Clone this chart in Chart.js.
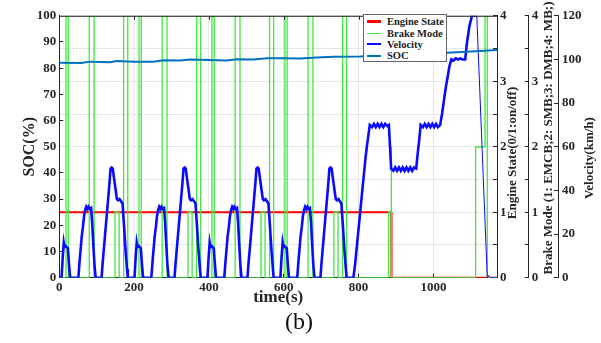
<!DOCTYPE html>
<html>
<head>
<meta charset="utf-8">
<script src="https://cdn.jsdelivr.net/npm/chart.js@4.4.0/dist/chart.umd.min.js"></script>
<style>
  html, body { margin: 0; padding: 0; background: #fff; }
  #wrap { position: relative; width: 601px; height: 343px; }
  #legend {
    position: absolute; left: 363px; top: 14px; width: 84px; height: 48px;
    box-sizing: border-box; border: 1px solid #666; background: #fff;
    font: bold 10.5px "Liberation Serif", "Times New Roman", serif; color: #222;
    padding-top: 1px;
  }
  #legend .row { display: flex; align-items: center; height: 11.4px; white-space: nowrap; }
  #legend .sw { flex: 0 0 14px; width: 14px; margin-left: 3px; margin-right: 6px; }
  #caption {
    position: absolute; left: 285px; top: 308px;
    font: 24px "Liberation Serif", "Times New Roman", serif; color: #111;
  }
</style>
</head>
<body>
<div id="wrap">
  <canvas id="chart"></canvas>
  <div id="legend"></div>
  <div id="caption">(b)</div>
</div>
<script>
// Datos
const timeTicks = [0, 200, 400, 600, 800, 1000];

const socTime = [0, 58, 82, 110, 136, 153, 200, 251, 278, 323, 350, 400, 447, 474, 519, 555, 600, 644, 688, 733, 804, 900, 1036, 1100, 1170];
const socValue = [82.1, 82.0, 82.5, 82.4, 82.3, 82.7, 82.5, 82.5, 83.0, 82.9, 83.3, 83.1, 82.9, 83.4, 83.3, 83.8, 83.8, 83.7, 84.1, 84.4, 84.5, 85.0, 85.9, 86.4, 86.9];

const engineTime = [0, 887, 888, 1170];
const engineState = [1, 1, 0, 0];

const brakeTime = [
  0, 18, 18, 24, 24, 80, 80, 93, 93, 149, 149, 160, 160, 172, 172, 183, 183,
  213, 213, 219, 219, 275, 275, 288, 288, 344, 344, 355, 355, 367, 367, 378, 378,
  408, 408, 414, 414, 470, 470, 483, 483, 539, 539, 550, 550, 562, 562, 573, 573,
  603, 603, 609, 609, 665, 665, 678, 678, 734, 734, 745, 745, 757, 757, 768, 768,
  880, 880, 887, 887, 888, 1113, 1113, 1138, 1138, 1144, 1144, 1170
];
const brakeMode = [
  0, 0, 4, 4, 0, 0, 4, 4, 0, 0, 1, 1, 0, 0, 4, 4, 0,
  0, 4, 4, 0, 0, 4, 4, 0, 0, 1, 1, 0, 0, 4, 4, 0,
  0, 4, 4, 0, 0, 4, 4, 0, 0, 1, 1, 0, 0, 4, 4, 0,
  0, 4, 4, 0, 0, 4, 4, 0, 0, 1, 1, 0, 0, 4, 4, 0,
  0, 1, 1, 2, 0, 0, 2, 2, 4, 4, 0, 0
];

const velTime = [
  0, 6, 9, 12, 14, 17, 20, 23, 26, 29,
  51, 54, 57, 60, 63, 66, 69, 72, 75, 78, 81, 85, 88, 91, 94, 97,
  113, 116, 119, 122, 125, 128, 131, 134, 137, 140, 143, 146, 150, 154, 157, 161, 165, 169, 173, 177, 181, 183,
  201, 204, 207, 209, 212, 215, 218, 221, 224,
  246, 249, 252, 255, 258, 261, 264, 267, 270, 273, 276, 280, 283, 286, 289, 292,
  308, 311, 314, 317, 320, 323, 326, 329, 332, 335, 338, 341, 345, 349, 352, 356, 360, 364, 368, 372, 376, 378,
  396, 399, 402, 404, 407, 410, 413, 416, 419,
  441, 444, 447, 450, 453, 456, 459, 462, 465, 468, 471, 475, 478, 481, 484, 487,
  503, 506, 509, 512, 515, 518, 521, 524, 527, 530, 533, 536, 540, 544, 547, 551, 555, 559, 563, 567, 571, 573,
  591, 594, 597, 599, 602, 605, 608, 611, 614,
  636, 639, 642, 645, 648, 651, 654, 657, 660, 663, 666, 670, 673, 676, 679, 682,
  698, 701, 704, 707, 710, 713, 716, 719, 722, 725, 728, 731, 735, 739, 742, 746, 750, 754, 758, 762, 766, 768,
  786, 790, 794, 798, 802, 806, 810, 814, 818, 822, 826, 830,
  836, 841, 846, 851, 856, 861, 866, 871, 877, 881, 884, 887,
  893, 898, 903, 908, 913, 918, 923, 928, 933, 938, 943, 948, 954, 958, 962, 966,
  972, 977, 982, 987, 992, 997, 1002, 1007, 1012, 1018,
  1023, 1028, 1033, 1038, 1043, 1048, 1054, 1060, 1066, 1072, 1078, 1085,
  1090, 1096, 1103, 1116, 1144, 1148, 1152, 1170
];
const velValue = [
  0, 0, 9, 16, 14, 14.5, 14, 13.5, 6, 0,
  0, 7, 13, 19, 23, 28, 31, 32.5, 31.5, 32.5, 31.5, 32, 25, 15, 6, 0,
  0, 7, 13, 19, 25, 31, 37, 43, 50, 50.5, 50, 46, 41, 36, 35.5, 36, 35, 34, 24, 13, 4, 0,
  0, 9, 16, 14, 14.5, 14, 13.5, 6, 0,
  0, 7, 13, 19, 23, 28, 31, 32.5, 31.5, 32.5, 31.5, 32, 25, 15, 6, 0,
  0, 7, 13, 19, 25, 31, 37, 43, 50, 50.5, 50, 46, 41, 36, 35.5, 36, 35, 34, 24, 13, 4, 0,
  0, 9, 16, 14, 14.5, 14, 13.5, 6, 0,
  0, 7, 13, 19, 23, 28, 31, 32.5, 31.5, 32.5, 31.5, 32, 25, 15, 6, 0,
  0, 7, 13, 19, 25, 31, 37, 43, 50, 50.5, 50, 46, 41, 36, 35.5, 36, 35, 34, 24, 13, 4, 0,
  0, 9, 16, 14, 14.5, 14, 13.5, 6, 0,
  0, 7, 13, 19, 23, 28, 31, 32.5, 31.5, 32.5, 31.5, 32, 25, 15, 6, 0,
  0, 7, 13, 19, 25, 31, 37, 43, 50, 50.5, 50, 46, 41, 36, 35.5, 36, 35, 34, 24, 13, 4, 0,
  0, 5, 12, 19, 26, 33, 40, 47, 54, 60, 65, 70,
  69, 70.5, 69, 70.5, 69, 70.5, 69, 70.5, 69.5, 70, 60, 50,
  49, 50.5, 49, 50.5, 49, 50.5, 49, 50.5, 49, 50.5, 49, 50.5, 50, 57, 63, 70,
  69, 70.5, 69, 70.5, 69, 70.5, 69, 70.5, 69, 70,
  75, 81, 87, 92, 97, 100, 99.5, 100.5, 100, 100.5, 100, 100,
  108, 115, 120, 120, 0, 1, 0, 0
];

const FONT = '"Liberation Serif", "Times New Roman", serif';
const INK = '#262626';

function toPoints(xs, ys) {
  return xs.map((x, i) => ({ x: x, y: ys[i] }));
}

// Titulos de los ejes derechos, leidos de abajo hacia arriba como en el original
const rightTitles = [
  { axis: 'yE', text: 'Engine State(0/1:on/off)', dx: 16, cy: 153 },
  { axis: 'yB', text: 'Brake Mode (1: EMCB;2: SMB;3: DMB;4: MB;)', dx: 19.5, cy: 138 },
  { axis: 'yV', text: 'Velocity(km/h)', dx: 32, cy: 158 }
];

const boxPlugin = {
  id: 'boxPlugin',
  afterDraw(chart) {
    const ctx = chart.ctx;
    const a = chart.chartArea;
    const xs = chart.scales.x;
    ctx.save();
    ctx.strokeStyle = INK;
    ctx.lineWidth = 1;
    ctx.beginPath();
    ctx.moveTo(a.left, a.top + 0.5);
    ctx.lineTo(a.right, a.top + 0.5);
    xs.ticks.forEach(t => {
      const px = Math.round(xs.getPixelForValue(t.value)) + 0.5;
      ctx.moveTo(px, a.top);
      ctx.lineTo(px, a.top + 4);
    });
    ctx.stroke();

    ctx.fillStyle = INK;
    ctx.font = 'bold 13px ' + FONT;
    ctx.textAlign = 'center';
    ctx.textBaseline = 'middle';
    rightTitles.forEach(t => {
      const s = chart.scales[t.axis];
      ctx.save();
      ctx.translate(s.left + t.dx, t.cy);
      ctx.rotate(-Math.PI / 2);
      ctx.fillText(t.text, 0, 0);
      ctx.restore();
    });
    ctx.restore();
  }
};

const tickFont = { family: FONT, size: 13, weight: 'bold' };
const intOnly = v => Number.isInteger(v) ? v : '';

const datasets = [
  {
    label: 'Engine State', yAxisID: 'yE', order: 3,
    data: toPoints(engineTime, engineState),
    borderColor: '#ff0000', borderWidth: 2
  },
  {
    label: 'Brake Mode', yAxisID: 'yB', order: 2,
    data: toPoints(brakeTime, brakeMode),
    borderColor: '#3ee83e', borderWidth: 1.3
  },
  {
    label: 'Velocity', yAxisID: 'yV', order: 1,
    data: toPoints(velTime, velValue),
    borderColor: '#0a0aff', borderWidth: 2.6,
    segment: { borderWidth: c => c.p0.parsed.x >= 1110 ? 1 : undefined }
  },
  {
    label: 'SOC', yAxisID: 'y', order: 0,
    data: toPoints(socTime, socValue),
    borderColor: '#0072bd', borderWidth: 2
  }
];

const legendWidths = { 'Engine State': 3, 'Brake Mode': 1.5, 'Velocity': 2, 'SOC': 2 };
const legend = document.getElementById('legend');
datasets.forEach(d => {
  const row = document.createElement('div');
  row.className = 'row';
  row.innerHTML = `<span class="sw" style="border-top:${legendWidths[d.label]}px solid ${d.borderColor}"></span><span>${d.label}</span>`;
  legend.appendChild(row);
});

new Chart(document.getElementById('chart'), {
  type: 'line',
  data: { datasets: datasets },
  options: {
    responsive: true,
    maintainAspectRatio: false,
    animation: false,
    elements: { point: { radius: 0 }, line: { tension: 0 } },
    layout: { padding: { left: 0, right: 0, top: 14.7, bottom: 35 } },
    plugins: { legend: { display: false }, tooltip: { enabled: false } },
    scales: {
      x: {
        type: 'linear', position: 'bottom', min: 0, max: 1170,
        afterBuildTicks: s => { s.ticks = timeTicks.map(v => ({ value: v })); },
        ticks: { font: tickFont, color: INK, padding: 6, maxRotation: 0, autoSkip: false, callback: v => String(v) },
        grid: { color: '#e6e6e6', tickColor: INK, tickLength: -4 },
        border: { color: INK },
        title: { display: true, text: 'time(s)', color: INK, font: { family: FONT, size: 17, weight: 'bold' }, padding: 0 },
        afterFit: s => { s.height = 30.3; }
      },
      y: {
        position: 'left', min: 0, max: 100,
        ticks: { stepSize: 10, font: tickFont, color: INK, padding: 7 },
        grid: { drawOnChartArea: false, tickColor: INK, tickLength: -4 },
        border: { color: INK },
        title: { display: true, text: 'SOC(%)', color: INK, font: { family: FONT, size: 16, weight: 'bold' }, padding: { top: 20, bottom: 0 } },
        afterFit: s => { s.width = 59.3; }
      },
      yE: {
        position: 'right', weight: 0, min: 0, max: 4,
        ticks: { stepSize: 0.5, callback: intOnly, font: tickFont, color: INK, padding: 7 },
        grid: { color: '#e6e6e6', tickColor: INK, tickLength: -4 },
        border: { color: INK },
        afterFit: s => { s.width = 31.7; }
      },
      yB: {
        position: 'right', weight: 1, min: 0, max: 4,
        ticks: { stepSize: 0.5, callback: intOnly, font: tickFont, color: INK, padding: 7 },
        grid: { drawOnChartArea: false, tickColor: INK, tickLength: -4 },
        border: { color: INK },
        afterFit: s => { s.width = 29.3; }
      },
      yV: {
        position: 'right', weight: 2, min: 0, max: 120,
        ticks: { stepSize: 20, font: tickFont, color: INK, padding: 8 },
        grid: { drawOnChartArea: false, tickColor: INK, tickLength: -4 },
        border: { color: INK },
        afterFit: s => { s.width = 43; }
      }
    }
  },
  plugins: [boxPlugin]
});
</script>
</body>
</html>
